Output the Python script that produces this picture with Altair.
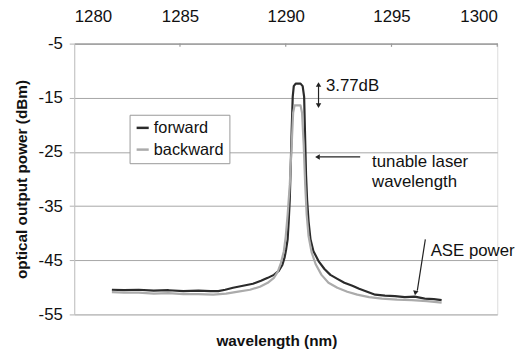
import altair as alt
import pandas as pd

# ---- data ----
fwd_wl = [1281.78, 1282.35, 1283.05, 1283.76, 1284.46, 1285.16, 1285.87, 1286.43, 1286.81,
          1287.14, 1287.51, 1287.98, 1288.45, 1288.83, 1289.15, 1289.44, 1289.67, 1289.84,
          1289.95, 1290.02, 1290.09, 1290.14, 1290.19, 1290.23, 1290.28, 1290.33, 1290.38,
          1290.47, 1290.70, 1290.80, 1290.87, 1290.92, 1290.96, 1291.01, 1291.08, 1291.17,
          1291.31, 1291.55, 1291.83, 1292.11, 1292.44, 1292.77, 1293.15, 1293.47, 1293.85,
          1294.23, 1294.69, 1295.16, 1295.63, 1296.10, 1296.57, 1297.00, 1297.37]
fwd_db = [-50.44, -50.53, -50.44, -50.62, -50.53, -50.71, -50.62, -50.71, -50.71,
          -50.44, -50.07, -49.71, -49.34, -48.80, -48.25, -47.70, -46.97, -45.88,
          -44.42, -42.96, -41.13, -37.85, -33.83, -28.36, -21.06, -14.85, -12.85,
          -12.39, -12.39, -12.85, -14.85, -22.88, -29.27, -33.83, -37.85, -41.13,
          -43.32, -45.15, -46.61, -47.70, -48.43, -49.16, -49.71, -50.26, -50.80,
          -51.35, -51.53, -51.62, -51.81, -51.72, -52.08, -52.17, -52.35]

bwd_wl = [1281.78, 1282.35, 1283.05, 1283.76, 1284.46, 1285.16, 1285.87, 1286.57, 1287.18,
          1287.75, 1288.31, 1288.78, 1289.15, 1289.44, 1289.62, 1289.77, 1289.91, 1290.00,
          1290.09, 1290.19, 1290.28, 1290.35, 1290.42, 1290.70, 1290.77, 1290.85, 1290.92,
          1290.99, 1291.08, 1291.22, 1291.41, 1291.69, 1292.02, 1292.44, 1292.91, 1293.38,
          1293.94, 1294.55, 1295.26, 1295.96, 1296.67, 1297.37]
bwd_db = [-50.89, -50.99, -50.99, -51.17, -51.08, -51.26, -51.26, -51.35, -51.17,
          -50.80, -50.44, -49.89, -49.16, -48.25, -47.15, -45.51, -43.32, -40.58,
          -36.57, -31.09, -23.80, -17.77, -16.41, -16.41, -17.77, -23.80, -31.09,
          -36.57, -40.58, -43.50, -45.69, -47.70, -49.16, -50.07, -50.80, -51.35,
          -51.81, -52.08, -52.26, -52.35, -52.54, -52.81]

series_names = ["forward", "backward"]
series_colors = ["#2b2b2b", "#ababab"]

x_ticks = [1280, 1285, 1290, 1295, 1300]
y_ticks = [-55, -45, -35, -25, -15, -5]

# annotations
ann_text = ["3.77dB", "tunable laser", "wavelength", "ASE power"]
ann_x = [1291.90, 1294.08, 1294.08, 1296.85]
ann_y = [-12.85, -26.84, -30.50, -43.27]

arrow_x = [1291.55, 1293.52, 1296.60]
arrow_x2 = [1291.55, 1291.60, 1296.22]
arrow_y = [-12.70, -25.93, -41.13]
arrow_y2 = [-16.30, -25.93, -50.60]

head_x = [1291.55, 1291.55, 1291.50, 1296.13]
head_y = [-12.55, -16.45, -25.93, -51.05]
head_shape = ["triangle-up", "triangle-down", "triangle-left", "triangle-down"]
head_angle = [0, 0, 0, 10]

FONT = "Liberation Sans"

# ---- tables ----
lines = pd.concat([
    pd.DataFrame({"wl": fwd_wl, "db": fwd_db, "series": "forward", "order": 1}),
    pd.DataFrame({"wl": bwd_wl, "db": bwd_db, "series": "backward", "order": 0}),
])
ann = pd.DataFrame({"x": ann_x, "y": ann_y, "t": ann_text})
arrows = pd.DataFrame({"x": arrow_x, "x2": arrow_x2, "y": arrow_y, "y2": arrow_y2})
heads = pd.DataFrame({"x": head_x, "y": head_y, "s": head_shape, "a": head_angle})
ticks = pd.DataFrame({"x": x_ticks[1:], "y": [-5] * 4, "y2": [-5.6] * 4})

xs = alt.Scale(domain=[1280, 1300], nice=False, zero=False)
ys = alt.Scale(domain=[-55, -5], nice=False, zero=False)

line_layer = alt.Chart(lines).mark_line(strokeWidth=2.2, strokeJoin="round").encode(
    x=alt.X("wl:Q", scale=xs, axis=alt.Axis(
        orient="top", values=x_ticks, title=None, grid=False, ticks=False,
        domainColor="#9a9a9a", domainWidth=1.2, labelFontSize=17, labelFont=FONT,
        labelColor="#111", labelPadding=18, labelExpr="'' + datum.value")),
    y=alt.Y("db:Q", scale=ys, axis=alt.Axis(
        values=y_ticks, title="optical output power (dBm)", grid=True,
        gridColor="#a6a6a6", gridWidth=1, domainColor="#c4c4c4", tickColor="#b0b0b0",
        tickSize=5, labelFontSize=17, labelFont=FONT, labelColor="#111",
        labelPadding=7, labelExpr="'' + datum.value",
        titleFont=FONT, titleFontSize=15.5, titleFontWeight="bold",
        titleColor="#111", titlePadding=9)),
    color=alt.Color("series:N", scale=alt.Scale(domain=series_names, range=series_colors),
                    sort=series_names,
                    legend=alt.Legend(title=None, orient="none", legendX=56, legendY=72,
                                      fillColor="white", strokeColor="#999999",
                                      padding=5, symbolType="stroke", symbolStrokeWidth=2.5,
                                      symbolSize=150, labelFontSize=16.5, labelFont=FONT,
                                      labelColor="#111", rowPadding=5, labelOffset=3)),
    order=alt.Order("order:Q"),
    detail="series:N",
)

tick_layer = alt.Chart(ticks).mark_rule(color="#9a9a9a", strokeWidth=1.2).encode(
    x=alt.X("x:Q", scale=xs), y=alt.Y("y:Q", scale=ys), y2="y2:Q")

arrow_layer = alt.Chart(arrows).mark_rule(color="#222", strokeWidth=1.2).encode(
    x=alt.X("x:Q", scale=xs), x2="x2:Q", y=alt.Y("y:Q", scale=ys), y2="y2:Q")

head_layer = alt.Chart(heads).mark_point(filled=True, color="#222", size=30, opacity=1).encode(
    x=alt.X("x:Q", scale=xs), y=alt.Y("y:Q", scale=ys),
    shape=alt.Shape("s:N", scale=None), angle=alt.Angle("a:Q", scale=None))

text_layer = alt.Chart(ann).mark_text(align="left", baseline="middle", fontSize=17,
                                      font=FONT, color="#111").encode(
    x=alt.X("x:Q", scale=xs), y=alt.Y("y:Q", scale=ys), text="t:N")

chart = alt.layer(line_layer, tick_layer, arrow_layer, head_layer, text_layer).properties(
    width=428, height=274,
    autosize=alt.AutoSizeParams(type="none"),
    padding={"left": 67, "top": 34, "right": 22, "bottom": 36},
    title=alt.TitleParams("wavelength (nm)", orient="bottom", anchor="middle", fontSize=15.5,
                          font=FONT, fontWeight="bold", color="#111", offset=12, dx=-9),
).configure_view(stroke=None).configure(background="white")

chart.save("out.html", embed_options={"renderer": "svg", "actions": False})
